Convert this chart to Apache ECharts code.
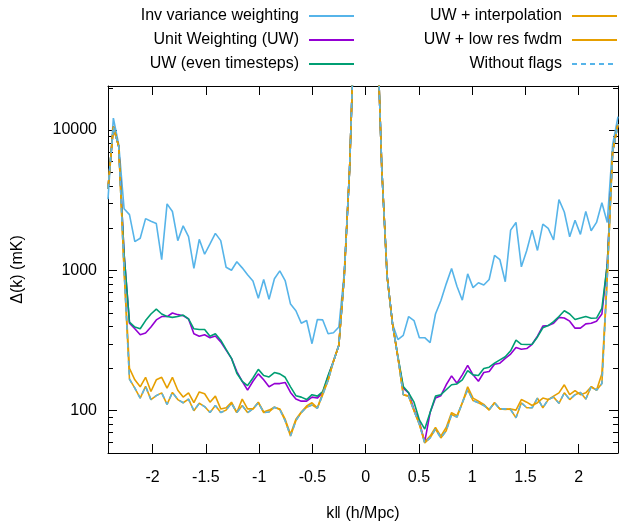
<!DOCTYPE html>
<html>
<head>
    <meta charset="utf-8">
    <title>Delta(k)</title>
    <script src="https://cdn.jsdelivr.net/npm/echarts@6/dist/echarts.min.js"></script>
</head>
<body style="margin:0">
    <div id="main" style="width: 625px;height:527px;"></div>
    <script type="text/javascript">
        // k-parallel grid (h/Mpc)
        var k = [-2.4192, -2.3688, -2.3184, -2.268, -2.2176, -2.1672, -2.1168, -2.0664, -2.016, -1.9656, -1.9152, -1.8648,
            -1.8144, -1.764, -1.7136, -1.6632, -1.6128, -1.5624, -1.512, -1.4616, -1.4112, -1.3608, -1.3104, -1.26,
            -1.2096, -1.1592, -1.1088, -1.0584, -1.008, -0.9576, -0.9072, -0.8568, -0.8064, -0.756, -0.7056, -0.6552,
            -0.6048, -0.5544, -0.504, -0.4536, -0.4032, -0.3528, -0.3024, -0.252, -0.2016, -0.1512, -0.1008, -0.0504,
            0, 0.0504, 0.1008, 0.1512, 0.2016, 0.252, 0.3024, 0.3528, 0.4032, 0.4536, 0.504, 0.5544,
            0.6048, 0.6552, 0.7056, 0.756, 0.8064, 0.8568, 0.9072, 0.9576, 1.008, 1.0584, 1.1088, 1.1592,
            1.2096, 1.26, 1.3104, 1.3608, 1.4112, 1.4616, 1.512, 1.5624, 1.6128, 1.6632, 1.7136, 1.764,
            1.8144, 1.8648, 1.9152, 1.9656, 2.016, 2.0664, 2.1168, 2.1672, 2.2176, 2.268, 2.3184, 2.3688];

        // Delta(k) in mK
        var invVar = [3200, 12100, 7850, 2740, 2490, 1600, 1690, 2330, 2230, 2150, 1190, 2970,
            2620, 1625, 2070, 1735, 1030, 1660, 1300, 1540, 1830, 1625, 1050, 1000,
            1150, 1040, 930, 838, 632, 860, 622, 870, 990, 845, 574, 515,
            420, 439, 300, 446, 443, 353, 359, 394, 950, 5200, 80000, 500000,
            5000000, 500000, 80000, 5300, 900, 415, 321, 344, 468, 438, 331, 331,
            305, 488, 607, 800, 1030, 770, 612, 942, 752, 815, 785, 860,
            1277, 1189, 828, 1930, 2190, 1058, 1384, 1930, 1384, 2130, 1985, 1642,
            3185, 2600, 1733, 2270, 1800, 2625, 1910, 2190, 3020, 2190, 7850, 12400];

        var unitW = [3800, 10500, 7600, 1300, 420, 383, 347, 357, 394, 443, 468, 468,
            496, 483, 475, 450, 353, 339, 347, 331, 340, 309, 270, 236,
            190, 162, 140, 162, 183, 166, 148, 156, 156, 159, 135, 121,
            117, 117, 125, 123, 135, 175, 225, 293, 900, 5200, 80000, 500000,
            5000000, 500000, 80000, 5300, 900, 415, 240, 145, 134, 102, 83, 60,
            97, 123, 128, 153, 177, 157, 180, 210, 180, 162, 187, 190,
            214, 218, 236, 253, 282, 274, 277, 297, 339, 400, 404, 420,
            462, 457, 434, 387, 387, 415, 420, 434, 488, 1100, 7000, 11000];

        var unitWEven = [3800, 10500, 7600, 1300, 427, 394, 383, 438, 488, 529, 488, 468,
            462, 468, 480, 450, 383, 379, 379, 339, 353, 318, 273, 236,
            185, 162, 151, 171, 197, 178, 174, 187, 183, 173, 148, 128,
            125, 120, 130, 127, 137, 178, 225, 293, 900, 5200, 80000, 500000,
            5000000, 500000, 80000, 5300, 900, 415, 245, 149, 134, 115, 86, 74,
            97, 127, 130, 141, 153, 155, 166, 193, 180, 178, 200, 204,
            218, 230, 242, 267, 318, 297, 296, 297, 335, 389, 404, 431,
            468, 515, 488, 446, 457, 468, 455, 457, 535, 1100, 7000, 11000];

        var interp = [3800, 10500, 7600, 1000, 168, 145, 123, 149, 120, 128, 134, 111,
            135, 120, 114, 121, 100, 113, 107, 97, 109, 97, 101, 113,
            97, 109, 97, 103, 114, 97, 98, 106, 102, 85, 66, 85,
            97, 106, 110, 104, 130, 165, 225, 293, 900, 5200, 80000, 500000,
            5000000, 500000, 80000, 5300, 900, 415, 240, 130, 127, 100, 80, 59,
            64, 74, 64, 72, 94, 90, 114, 141, 118, 114, 109, 102,
            114, 103, 103, 102, 89, 114, 105, 105, 123, 105, 120, 125,
            113, 134, 120, 130, 135, 121, 148, 140, 156, 900, 7000, 11000];

        var lowRes = [3800, 10500, 7600, 1000, 200, 166, 148, 173, 137, 166, 173, 145,
            173, 140, 125, 134, 114, 136, 132, 115, 127, 103, 105, 115,
            97, 121, 103, 103, 115, 98, 101, 106, 103, 87, 68, 87,
            98, 108, 114, 105, 134, 165, 225, 293, 900, 5200, 80000, 500000,
            5000000, 500000, 80000, 5300, 900, 415, 240, 130, 127, 100, 80, 60,
            66, 76, 66, 76, 97, 92, 114, 148, 123, 117, 111, 101,
            114, 103, 102, 103, 101, 120, 115, 109, 114, 123, 120, 127,
            134, 153, 130, 139, 130, 134, 148, 140, 183, 900, 7000, 11000];

        // follows the interpolation curve
        var noFlags = interp;

        var names = ['Inv variance weighting', 'Unit Weighting (UW)', 'UW (even timesteps)',
            'UW + interpolation', 'UW + low res fwdm', 'Without flags'];
        var colors = ['#56b4e9', '#9400d3', '#009e73', '#e69f00', '#e69f00', '#56b4e9'];
        var values = [invVar, unitW, unitWEven, interp, lowRes, noFlags];

        var FONT = "'Liberation Sans', Arial, sans-serif";

        function pairs(arr) {
            return k.map(function (x, i) { return [x, arr[i]]; });
        }

        var series = names.map(function (n, s) {
            return {
                name: n,
                type: 'line',
                symbol: 'none',
                data: pairs(values[s]),
                color: colors[s],
                lineStyle: {
                    width: 1.6,
                    color: colors[s],
                    type: s === 5 ? [5, 4] : 'solid'
                }
            };
        });

        // two legend columns, each row right aligned
        var legendPos = [
            { right: 270, top: 8 }, { right: 270, top: 32 }, { right: 270, top: 56 },
            { right: 7, top: 8 }, { right: 7, top: 32 }, { right: 7, top: 56 }
        ];
        var legends = names.map(function (n, i) {
            return {
                data: [n],
                right: legendPos[i].right,
                top: legendPos[i].top,
                align: 'right',
                padding: 0,
                itemWidth: 45,
                itemHeight: 14,
                selectedMode: false,
                itemStyle: { opacity: 0 },
                lineStyle: { width: 2 },
                textStyle: { fontSize: 16, fontFamily: FONT, color: '#000', lineHeight: 16, padding: [0, 5, 0, 0] }
            };
        });

        var axisLine = { show: true, onZero: false, lineStyle: { color: '#000', width: 1 } };
        var tick = { show: true, inside: true, length: 9, lineStyle: { color: '#000', width: 1 } };

        var myChart = echarts.init(document.getElementById('main'));
        var option = {
            animation: false,
            legend: legends,
            grid: { left: 108, top: 86, width: 510, height: 372 },
            xAxis: [
                {
                    type: 'value',
                    min: k[0], max: k[k.length - 1],
                    splitNumber: 10,
                    name: 'k\u2016 (h/Mpc)',
                    nameLocation: 'middle',
                    nameGap: 53,
                    nameTextStyle: { fontSize: 16, fontFamily: FONT, color: '#000' },
                    axisLine: axisLine,
                    axisTick: tick,
                    splitLine: { show: false },
                    axisLabel: {
                        fontSize: 16, fontFamily: FONT, color: '#000', margin: 17,
                        showMinLabel: false, showMaxLabel: false
                    }
                },
                {
                    type: 'value',
                    position: 'top',
                    min: k[0], max: k[k.length - 1],
                    splitNumber: 10,
                    axisLine: axisLine,
                    axisTick: tick,
                    splitLine: { show: false },
                    axisLabel: { show: false }
                }
            ],
            yAxis: [
                {
                    type: 'log',
                    logBase: 10,
                    min: 50, max: 20500,
                    name: '\u0394(k) (mK)',
                    nameLocation: 'middle',
                    nameGap: 82,
                    nameTextStyle: { fontSize: 16, fontFamily: FONT, color: '#000' },
                    axisLine: axisLine,
                    axisTick: tick,
                    splitLine: { show: false },
                    axisLabel: {
                        fontSize: 16, fontFamily: FONT, color: '#000', margin: 11,
                        showMinLabel: false, showMaxLabel: false,
                        formatter: function (v) { return String(Math.round(v)); }
                    }
                },
                {
                    type: 'log',
                    logBase: 10,
                    position: 'right',
                    min: 50, max: 20500,
                    axisLine: axisLine,
                    axisTick: tick,
                    splitLine: { show: false },
                    axisLabel: { show: false }
                }
            ],
            series: series
        };
        myChart.setOption(option);

        // minor ticks of the log axis (2..9 x decade), on both sides
        var minorVals = [60, 70, 80, 90, 200, 300, 400, 500, 600, 700, 800, 900,
            2000, 3000, 4000, 5000, 6000, 7000, 8000, 9000, 20000];
        var gLeft = 108, gRight = 618;
        var marks = [];
        minorVals.forEach(function (v) {
            var y = Math.round(myChart.convertToPixel({ yAxisIndex: 0 }, v)) + 0.5;
            marks.push({ type: 'line', shape: { x1: gLeft, y1: y, x2: gLeft + 5, y2: y }, style: { stroke: '#000', lineWidth: 1 }, silent: true });
            marks.push({ type: 'line', shape: { x1: gRight - 5, y1: y, x2: gRight, y2: y }, style: { stroke: '#000', lineWidth: 1 }, silent: true });
        });
        myChart.setOption({ graphic: marks });
    </script>
</body>
</html>
